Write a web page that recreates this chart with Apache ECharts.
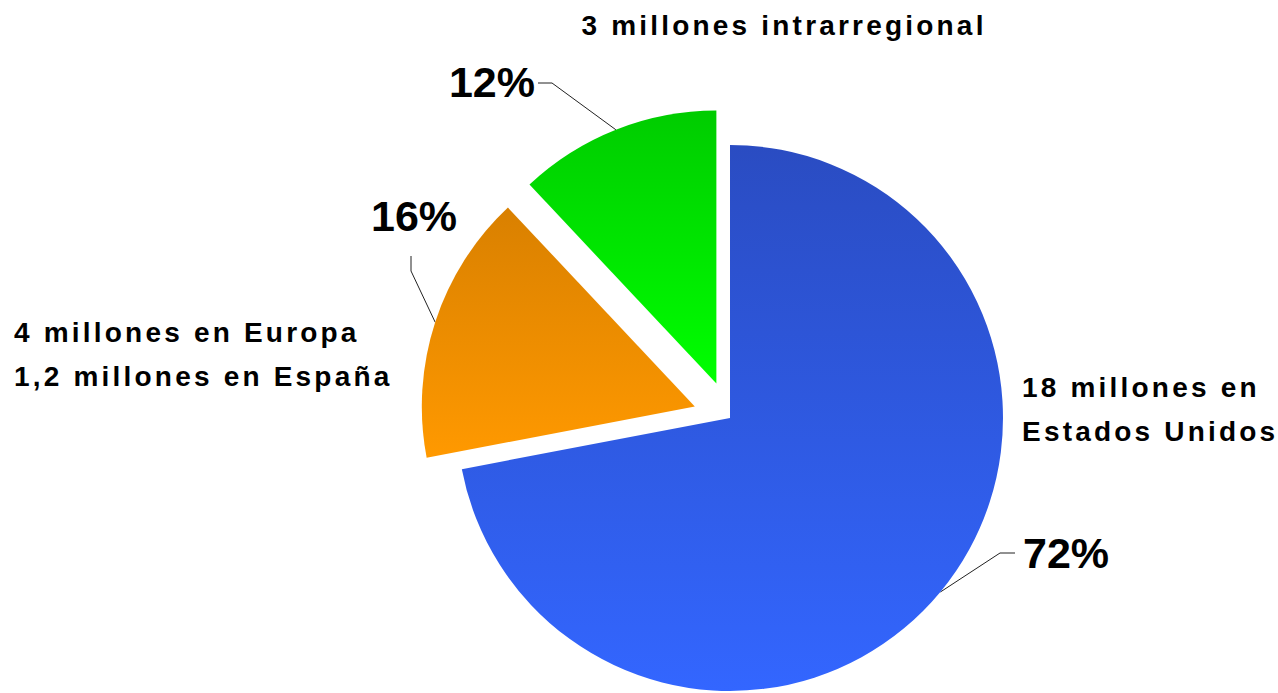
<!DOCTYPE html>
<html>
<head>
<meta charset="utf-8">
<script src="https://cdn.jsdelivr.net/npm/echarts@6/dist/echarts.min.js"></script>
<style>
  html, body { margin: 0; padding: 0; background: #fff; }
  #chart { width: 1278px; height: 693px; }
</style>
</head>
<body>
<div id="chart"></div>
<script>
// emigrantes por destino (millones)
const destinos = ['Estados Unidos', 'Europa', 'Intrarregional'];
const millones = [18, 4, 3];
const textos = [
  '18 millones en\nEstados Unidos',
  '4 millones en Europa\n1,2 millones en España',
  '3 millones intrarregional'
];
const separados = [false, true, true];
const colores = [
  ['#2a4cc2', '#3366ff'],
  ['#d98000', '#ff9900'],
  ['#00cc00', '#00ff00']
];

const FONT = '"Liberation Sans", Arial, sans-serif';
const centro = [730, 418];
const radio = 273;
const despl = 37;
const total = millones.reduce((a, b) => a + b, 0);

// donde van los porcentajes y como doblan las lineas guia
const etiquetas = [
  { x: 1023, y: 553, align: 'left', fin: [-8, 0], codo: [-23, 0] },
  { x: 414, y: 216, align: 'center', fin: [-3, 40], codo: [-3, 55] },
  { x: 535, y: 82, align: 'right', fin: [3, 1], codo: [17, 1] }
];

function anguloMedio(i) {
  let antes = 0;
  for (let k = 0; k < i; k++) antes += millones[k];
  return (antes + millones[i] / 2) / total * Math.PI * 2;
}

// cada porcion en su propia serie para poder separarla del centro
function centroDe(i) {
  const a = anguloMedio(i);
  const d = separados[i] ? despl : 0;
  return [centro[0] + Math.sin(a) * d, centro[1] - Math.cos(a) * d];
}

function anclaje(i) {
  const a = anguloMedio(i);
  const c = centroDe(i);
  return [c[0] + Math.sin(a) * radio, c[1] - Math.cos(a) * radio];
}

const series = destinos.map((dest, i) => ({
  type: 'pie',
  silent: true,
  center: centroDe(i),
  radius: radio,
  startAngle: 90,
  clockwise: true,
  avoidLabelOverlap: false,
  label: {
    show: true,
    position: 'outside',
    formatter: p => Math.round(p.value / total * 100) + '%',
    fontSize: 43,
    fontWeight: 'bold',
    fontFamily: FONT,
    color: '#000'
  },
  labelLine: {
    show: true,
    lineStyle: { color: '#222', width: 1 }
  },
  labelLayout: function (params) {
    const e = etiquetas[params.dataIndex];
    const a = anclaje(params.dataIndex);
    return {
      x: e.x,
      y: e.y,
      align: e.align,
      verticalAlign: 'middle',
      labelLinePoints: [
        a,
        [e.x + e.codo[0], e.y + e.codo[1]],
        [e.x + e.fin[0], e.y + e.fin[1]]
      ]
    };
  },
  data: destinos.map((d, k) => ({
    name: d,
    value: millones[k],
    label: { show: k === i },
    labelLine: { show: k === i },
    itemStyle: {
      color: k === i
        ? new echarts.graphic.LinearGradient(0, 0, 0, 1, [
            { offset: 0, color: colores[k][0] },
            { offset: 1, color: colores[k][1] }
          ])
        : 'rgba(0,0,0,0)'
    }
  }))
}));

const chart = echarts.init(document.getElementById('chart'), null, { renderer: 'svg' });

chart.setOption({
  animation: false,
  backgroundColor: '#fff',
  series: series,
  graphic: [
    {
      type: 'text', x: 784, y: 25,
      style: { text: textos[2], font: 'bold 28px ' + FONT, fill: '#000', textAlign: 'center', textVerticalAlign: 'middle' }
    },
    {
      type: 'text', x: 14, y: 354,
      style: { text: textos[1], font: 'bold 28px ' + FONT, fill: '#000', textAlign: 'left', textVerticalAlign: 'middle', lineHeight: 44 }
    },
    {
      type: 'text', x: 1022, y: 409,
      style: { text: textos[0], font: 'bold 28px ' + FONT, fill: '#000', textAlign: 'left', textVerticalAlign: 'middle', lineHeight: 44 }
    }
  ]
});

// el original tiene el texto pequeño bastante espaciado
document.querySelectorAll('#chart text').forEach(t => {
  if (getComputedStyle(t).fontSize === '28px') t.style.letterSpacing = '3.2px';
});
</script>
</body>
</html>
